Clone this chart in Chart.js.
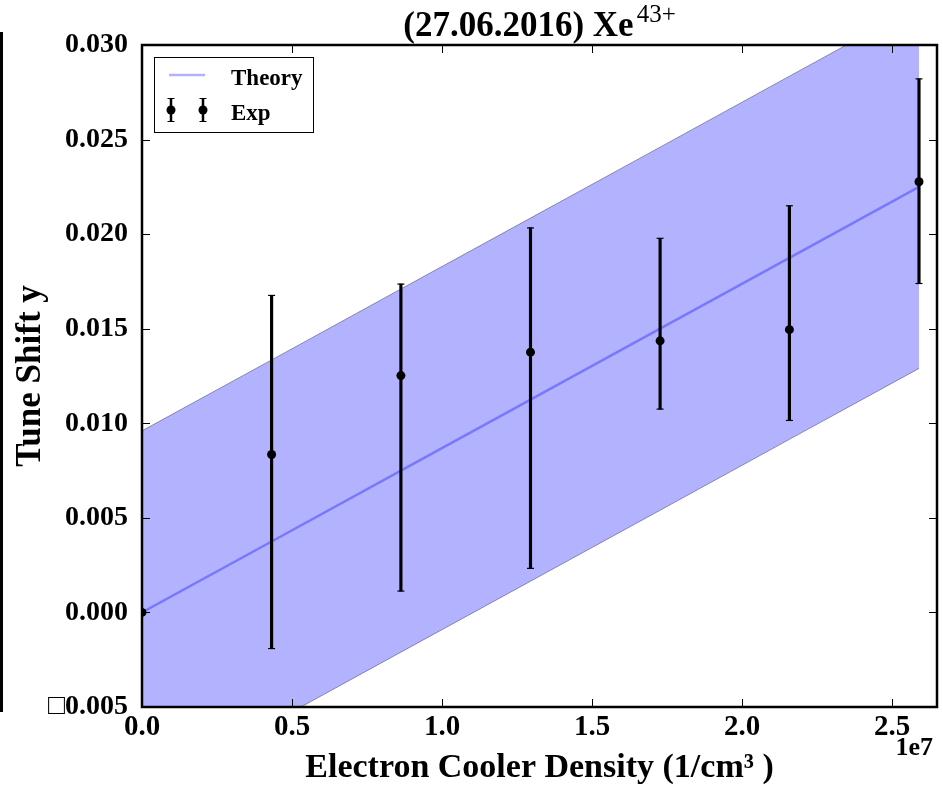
<!DOCTYPE html>
<html>
<head>
<meta charset="utf-8">
<script src="https://cdn.jsdelivr.net/npm/chart.js@4"></script>
<style>
  html, body { margin: 0; padding: 0; background: #fff; }
  #wrap { width: 943px; height: 786px; position: relative; }
</style>
</head>
<body>
<div id="wrap"><canvas id="tuneChart"></canvas></div>
<script>
// measured data (x in 1/cm^3)
const density = [0, 0.432e7, 0.863e7, 1.295e7, 1.727e7, 2.158e7, 2.590e7];
const tuneShift = [0.0000, 0.00835, 0.01252, 0.01376, 0.01436, 0.01495, 0.02277];
const errLow = [null, -0.00191, 0.00113, 0.00233, 0.01075, 0.01015, 0.01739];
const errHigh = [null, 0.01676, 0.01736, 0.02033, 0.01978, 0.02150, 0.02821];

// theory line and its uncertainty band
const theory = [0, 0.00375, 0.0075, 0.01125, 0.0150, 0.01875, 0.0225];
const theoryUpper = [0.0096, 0.01335, 0.0171, 0.02085, 0.0246, 0.02835, 0.0321];
const theoryLower = [-0.0096, -0.00585, -0.0021, 0.00165, 0.0054, 0.00915, 0.0129];

// axis ticks
const xTickValues = [0, 0.5e7, 1.0e7, 1.5e7, 2.0e7, 2.5e7];
const xTickLabels = ["0.0", "0.5", "1.0", "1.5", "2.0", "2.5"];
const yTickValues = [-0.005, 0, 0.005, 0.010, 0.015, 0.020, 0.025, 0.030];
const yTickLabels = ["\u25A10.005", "0.000", "0.005", "0.010", "0.015", "0.020", "0.025", "0.030"];

const SERIF = "'Liberation Serif', 'DejaVu Serif', serif";

function xy(xs, ys) {
    return xs.map((x, i) => ({ x: x, y: ys[i] }));
}

const errBars = [];
const capsLow = [];
const capsHigh = [];
density.forEach((x, i) => {
    if (errLow[i] === null) return;
    errBars.push({ x: x, y: [errLow[i], errHigh[i]] });
    capsLow.push({ x: x, y: errLow[i] });
    capsHigh.push({ x: x, y: errHigh[i] });
});

// frame, inward ticks, title, legend, offset text
const decorations = {
    id: "decorations",
    afterDatasetsDraw(chart) {
        const ctx = chart.ctx;
        const a = chart.chartArea;
        const xs = chart.scales.x, ys = chart.scales.y;
        ctx.save();
        ctx.strokeStyle = "#000";
        ctx.lineWidth = 1;
        ctx.beginPath();
        xTickValues.forEach(v => {
            const px = Math.round(xs.getPixelForValue(v)) + 0.5;
            ctx.moveTo(px, a.bottom); ctx.lineTo(px, a.bottom - 8);
            ctx.moveTo(px, a.top); ctx.lineTo(px, a.top + 8);
        });
        yTickValues.forEach(v => {
            const py = Math.round(ys.getPixelForValue(v)) + 0.5;
            ctx.moveTo(a.left, py); ctx.lineTo(a.left + 8, py);
            ctx.moveTo(a.right, py); ctx.lineTo(a.right - 8, py);
        });
        ctx.stroke();

        ctx.lineWidth = 2.5;
        ctx.strokeRect(a.left, a.top, a.right - a.left, a.bottom - a.top);

        // legend box
        ctx.lineWidth = 1;
        ctx.strokeRect(154.5, 57.5, 159, 75);
        ctx.strokeStyle = "rgba(0,0,255,0.3)";
        ctx.lineWidth = 2.5;
        ctx.beginPath();
        ctx.moveTo(169, 75); ctx.lineTo(205, 75);
        ctx.stroke();
        [171, 203].forEach(mx => {
            ctx.strokeStyle = "#000";
            ctx.lineWidth = 2.5;
            ctx.beginPath();
            ctx.moveTo(mx, 98); ctx.lineTo(mx, 122);
            ctx.stroke();
            ctx.lineWidth = 1;
            ctx.beginPath();
            ctx.moveTo(mx - 3.5, 98.5); ctx.lineTo(mx + 3.5, 98.5);
            ctx.moveTo(mx - 3.5, 121.5); ctx.lineTo(mx + 3.5, 121.5);
            ctx.stroke();
            ctx.fillStyle = "#000";
            ctx.beginPath();
            ctx.arc(mx, 110, 4.5, 0, Math.PI * 2);
            ctx.fill();
        });
        ctx.fillStyle = "#000";
        ctx.font = "bold 23px " + SERIF;
        ctx.textBaseline = "alphabetic";
        ctx.textAlign = "left";
        ctx.fillText("Theory", 231, 85);
        ctx.fillText("Exp", 231, 120);

        // title with superscript
        const main = "(27.06.2016) Xe";
        const sup = "43+";
        ctx.font = "bold 35px " + SERIF;
        const wMain = ctx.measureText(main).width;
        ctx.font = "25px " + SERIF;
        const wSup = ctx.measureText(sup).width;
        const x0 = (a.left + a.right) / 2 - (wMain + wSup + 3) / 2;
        ctx.font = "bold 35px " + SERIF;
        ctx.fillText(main, x0, 36);
        ctx.font = "25px " + SERIF;
        ctx.fillText(sup, x0 + wMain + 3, 22);

        // offset text
        ctx.font = "bold 26px " + SERIF;
        ctx.textAlign = "right";
        ctx.textBaseline = "middle";
        ctx.fillText("1e7", 933, 748);

        // stray frame line on the left edge
        ctx.fillRect(0, 32, 3, 680);
        ctx.restore();
    }
};

document.addEventListener("DOMContentLoaded", function() {
    const ctx = document.getElementById("tuneChart").getContext("2d");
    new Chart(ctx, {
        type: "scatter",
        data: {
            datasets: [
                {
                    type: "line",
                    label: "band upper",
                    data: xy(density, theoryUpper),
                    borderColor: "rgba(70,70,110,0.55)",
                    borderWidth: 1,
                    backgroundColor: "rgba(0,0,255,0.3)",
                    fill: "+1",
                    pointRadius: 0,
                    order: 6
                },
                {
                    type: "line",
                    label: "band lower",
                    data: xy(density, theoryLower),
                    borderColor: "rgba(70,70,110,0.55)",
                    borderWidth: 1,
                    fill: false,
                    pointRadius: 0,
                    order: 5
                },
                {
                    type: "line",
                    label: "Theory",
                    data: xy(density, theory),
                    borderColor: "rgba(0,0,255,0.33)",
                    borderWidth: 2.5,
                    fill: false,
                    pointRadius: 0,
                    order: 4
                },
                {
                    type: "bar",
                    label: "err",
                    data: errBars,
                    backgroundColor: "#000",
                    borderWidth: 0,
                    barThickness: 2.5,
                    order: 3
                },
                {
                    label: "cap low",
                    data: capsLow,
                    pointStyle: "line",
                    pointRadius: 3.5,
                    borderColor: "#000",
                    borderWidth: 1.2,
                    order: 2
                },
                {
                    label: "cap high",
                    data: capsHigh,
                    pointStyle: "line",
                    pointRadius: 3.5,
                    borderColor: "#000",
                    borderWidth: 1.2,
                    order: 2
                },
                {
                    label: "Exp",
                    data: xy(density, tuneShift),
                    pointRadius: 4.5,
                    backgroundColor: "#000",
                    borderWidth: 0,
                    clip: 0,
                    order: 1
                }
            ]
        },
        options: {
            responsive: true,
            maintainAspectRatio: false,
            animation: false,
            events: [],
            layout: { padding: { top: 45, right: 6, left: 0, bottom: 0 } },
            plugins: {
                legend: { display: false },
                tooltip: { enabled: false },
                title: { display: false }
            },
            scales: {
                x: {
                    type: "linear",
                    min: 0,
                    max: 2.65e7,
                    offset: false,
                    grid: { display: false },
                    border: { display: false },
                    afterBuildTicks: s => { s.ticks = xTickValues.map(v => ({ value: v })); },
                    afterFit: s => { s.height = 79; },
                    ticks: {
                        color: "#000",
                        padding: -5,
                        maxRotation: 0,
                        font: { family: SERIF, size: 29, weight: "bold" },
                        callback: (v, i) => xTickLabels[i]
                    },
                    title: {
                        display: true,
                        text: "Electron Cooler Density (1/cm\u00B3 )",
                        color: "#000",
                        font: { family: SERIF, size: 34, weight: "bold", lineHeight: 1 },
                        padding: { top: 0, bottom: 1 }
                    }
                },
                y: {
                    type: "linear",
                    min: -0.005,
                    max: 0.030,
                    grid: { display: false },
                    border: { display: false },
                    afterBuildTicks: s => { s.ticks = yTickValues.map(v => ({ value: v })); },
                    afterFit: s => { s.width = 142; },
                    ticks: {
                        color: "#000",
                        padding: 6,
                        font: { family: SERIF, size: 28, weight: "bold" },
                        callback: (v, i) => yTickLabels[i]
                    },
                    title: {
                        display: true,
                        text: "Tune Shift y",
                        color: "#000",
                        font: { family: SERIF, size: 35, weight: "bold", lineHeight: 1 },
                        padding: { top: 13, bottom: 0 }
                    }
                }
            }
        },
        plugins: [decorations]
    });
});
</script>
</body>
</html>
